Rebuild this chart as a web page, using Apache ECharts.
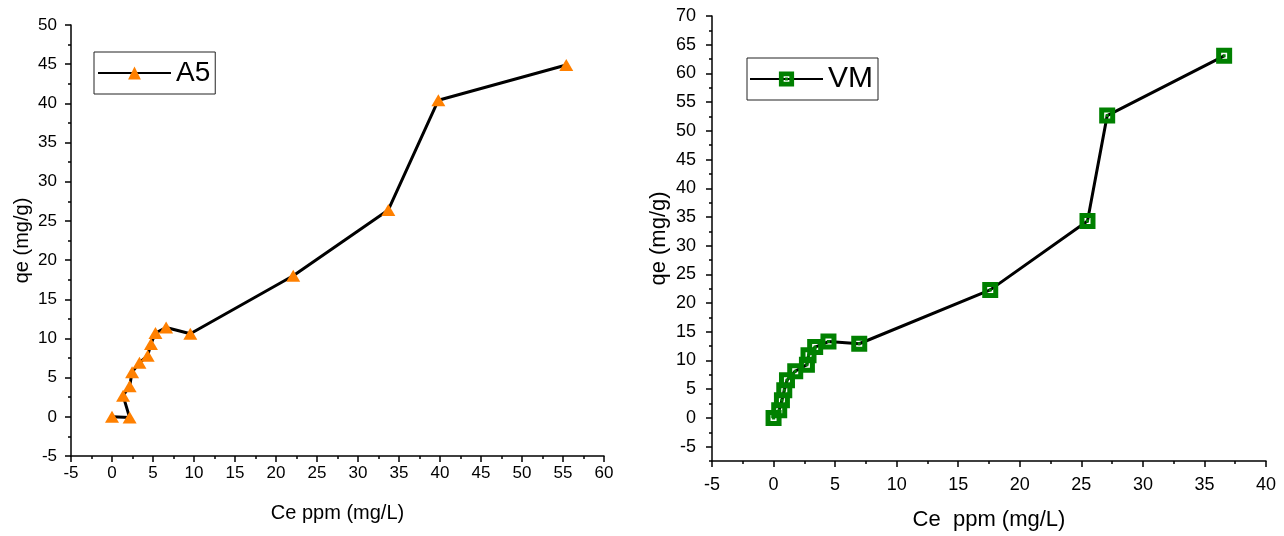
<!DOCTYPE html>
<html>
<head>
<meta charset="utf-8">
<script src="https://cdn.jsdelivr.net/npm/echarts@6/dist/echarts.min.js"></script>
<style>
  html, body { margin: 0; padding: 0; background: #fff; }
  #chart { width: 1284px; height: 536px; }
</style>
</head>
<body>
<div id="chart"></div>
<script>
// A5 adsorbent: equilibrium concentration Ce (mg/L) vs uptake qe (mg/g)
const a5Ce = [0, 2.15, 1.35, 2.15, 2.45, 3.35, 4.35, 4.75, 5.3, 6.6, 9.55, 22.1, 33.7, 39.8, 55.4];
const a5Qe = [0, -0.1, 2.7, 3.9, 5.7, 6.9, 7.8, 9.3, 10.7, 11.4, 10.6, 18.0, 26.4, 40.4, 44.9];

// VM adsorbent
const vmCe = [0, 0.46, 0.68, 0.87, 1.09, 1.76, 2.71, 2.84, 3.38, 4.46, 6.96, 17.6, 25.5, 27.1, 36.6];
const vmQe = [0, 1.35, 3.08, 4.82, 6.55, 8.12, 9.28, 10.9, 12.35, 13.3, 12.92, 22.3, 34.3, 52.65, 63.06];

// Right-hand qe axis: labelled ticks and the minor ticks between them
const vmQeMajor = [-5, 0, 5, 10, 15, 20, 25, 30, 35, 40, 45, 50, 55, 60, 65, 70];
const vmQeMinor = [-7.5, -2.5, 2.5, 7.5, 12.5, 17.5, 22.5, 27.5, 32.5, 37.5, 42.5, 47.5, 52.5, 57.5, 62.5, 67.5];

const FONT = '"Liberation Sans", Arial, sans-serif';
const INK = '#000';

function pairs(xs, ys) { return xs.map((x, i) => [x, ys[i]]); }

const axisLine = { show: true, onZero: false, lineStyle: { color: INK, width: 1.5 } };
const majorTick = { show: true, inside: false, length: 6, lineStyle: { color: INK, width: 1.5 } };
const minorTick = { show: true, splitNumber: 2, length: 3, lineStyle: { color: INK, width: 1.5 } };

function valueAxis(extra) {
  return Object.assign({
    type: 'value',
    axisLine: axisLine,
    axisTick: majorTick,
    minorTick: minorTick,
    splitLine: { show: false },
    minorSplitLine: { show: false },
    nameLocation: 'middle',
    nameTextStyle: { color: INK, fontFamily: FONT, fontSize: 20 }
  }, extra);
}

// solid square with a thin white ring around a centre block
const dotSquare = 'path://M0 0H16V5H0Z M0 11H16V16H0Z M0 5H5V11H0Z M11 5H16V11H11Z M6.5 6.5H9.5V9.5H6.5Z';

const chart = echarts.init(document.getElementById('chart'), null, { renderer: 'canvas' });

chart.setOption({
  backgroundColor: '#fff',
  animation: false,
  grid: [
    { left: 71, top: 25, width: 533, height: 431 },
    { left: 712, top: 16, width: 554, height: 447 }
  ],
  xAxis: [
    valueAxis({
      gridIndex: 0, min: -5, max: 60, interval: 5,
      name: 'Ce ppm (mg/L)', nameGap: 47,
      axisLabel: { color: INK, fontFamily: FONT, fontSize: 17, margin: 9 }
    }),
    valueAxis({
      gridIndex: 1, min: -5, max: 40, interval: 5,
      name: 'Ce  ppm (mg/L)', nameGap: 48,
      nameTextStyle: { color: INK, fontFamily: FONT, fontSize: 22 },
      axisLabel: { color: INK, fontFamily: FONT, fontSize: 18, margin: 15 }
    })
  ],
  yAxis: [
    valueAxis({
      gridIndex: 0, min: -5, max: 50, interval: 5,
      name: 'qe (mg/g)', nameGap: 39,
      axisLabel: { color: INK, fontFamily: FONT, fontSize: 17, margin: 14 }
    }),
    valueAxis({
      gridIndex: 1, min: -7.5, max: 70,
      name: 'qe (mg/g)', nameGap: 42,
      nameTextStyle: { color: INK, fontFamily: FONT, fontSize: 22 },
      minorTick: { show: false },
      axisTick: Object.assign({}, majorTick, { customValues: vmQeMajor }),
      axisLabel: { color: INK, fontFamily: FONT, fontSize: 18, margin: 16, customValues: vmQeMajor }
    }),
    valueAxis({
      gridIndex: 1, min: -7.5, max: 70, position: 'left',
      axisLine: { show: false, onZero: false },
      minorTick: { show: false },
      axisTick: Object.assign({}, majorTick, { length: 3, customValues: vmQeMinor }),
      axisLabel: { show: false }
    })
  ],
  legend: [
    {
      left: 94, top: 52, orient: 'vertical',
      data: ['A5'],
      itemWidth: 73, itemHeight: 16,
      padding: [7, 5, 7, 3],
      borderColor: '#222', borderWidth: 1,
      textStyle: { color: INK, fontFamily: FONT, fontSize: 28 }
    },
    {
      left: 747, top: 58, orient: 'vertical',
      data: ['VM'],
      itemWidth: 73, itemHeight: 19,
      padding: [6, 5, 6, 2],
      borderColor: '#222', borderWidth: 1,
      textStyle: { color: INK, fontFamily: FONT, fontSize: 30 }
    }
  ],
  series: [
    {
      name: 'A5', type: 'line', xAxisIndex: 0, yAxisIndex: 0,
      data: pairs(a5Ce, a5Qe),
      symbol: 'triangle', symbolSize: [14, 12],
      itemStyle: { color: '#ff8000' },
      lineStyle: { color: '#000', width: 3 }
    },
    {
      name: 'VM', type: 'line', xAxisIndex: 1, yAxisIndex: 1,
      data: pairs(vmCe, vmQe),
      symbol: dotSquare, symbolSize: 16, symbolKeepAspect: true,
      itemStyle: { color: '#008000' },
      lineStyle: { color: '#000', width: 3 }
    }
  ]
});
</script>
</body>
</html>
